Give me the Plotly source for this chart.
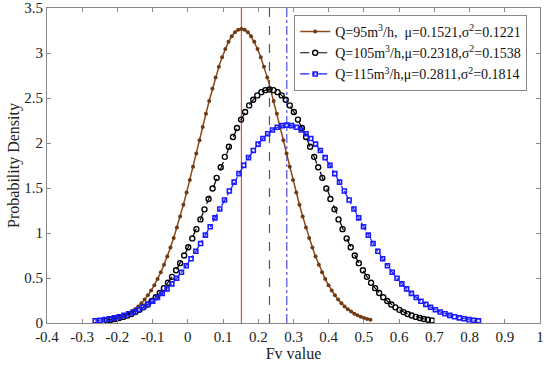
import plotly.graph_objects as go

# ---- data ----
labels = ["Q=95m<sup>3</sup>/h,  μ=0.1521,σ<sup>2</sup>=0.1221",
          "Q=105m<sup>3</sup>/h,μ=0.2318,σ<sup>2</sup>=0.1538",
          "Q=115m<sup>3</sup>/h,μ=0.2811,σ<sup>2</sup>=0.1814"]
mean_lines = [0.1521, 0.2318, 0.2811]

x95 = [-0.2142, -0.2050, -0.1959, -0.1867, -0.1776, -0.1684, -0.1593, -0.1501, -0.1409, -0.1318,
       -0.1226, -0.1135, -0.1043, -0.0952, -0.0860, -0.0768, -0.0677, -0.0585, -0.0494, -0.0402,
       -0.0311, -0.0219, -0.0127, -0.0036, 0.0056, 0.0147, 0.0239, 0.0331, 0.0422, 0.0514,
       0.0605, 0.0697, 0.0788, 0.0880, 0.0972, 0.1063, 0.1155, 0.1246, 0.1338, 0.1429,
       0.1521,
       0.1613, 0.1704, 0.1796, 0.1887, 0.1979, 0.2071, 0.2162, 0.2254, 0.2345, 0.2437,
       0.2528, 0.2620, 0.2712, 0.2803, 0.2895, 0.2986, 0.3078, 0.3169, 0.3261, 0.3353,
       0.3444, 0.3536, 0.3627, 0.3719, 0.3810, 0.3902, 0.3994, 0.4085, 0.4177, 0.4268,
       0.4360, 0.4451, 0.4543, 0.4635, 0.4726, 0.4818, 0.4909, 0.5001, 0.5092, 0.5184]
y95 = [0.036, 0.045, 0.056, 0.069, 0.085, 0.104, 0.127, 0.153, 0.183, 0.219,
       0.260, 0.307, 0.360, 0.420, 0.488, 0.563, 0.647, 0.738, 0.838, 0.945,
       1.061, 1.184, 1.314, 1.449, 1.590, 1.735, 1.883, 2.031, 2.179, 2.325,
       2.466, 2.602, 2.729, 2.847, 2.953, 3.045, 3.124, 3.186, 3.231, 3.258,
       3.267,
       3.258, 3.231, 3.186, 3.124, 3.045, 2.953, 2.847, 2.729, 2.602, 2.466,
       2.325, 2.179, 2.031, 1.883, 1.735, 1.590, 1.449, 1.314, 1.184, 1.061,
       0.945, 0.838, 0.738, 0.647, 0.563, 0.488, 0.420, 0.360, 0.307, 0.260,
       0.219, 0.183, 0.153, 0.127, 0.104, 0.085, 0.069, 0.056, 0.045, 0.036]

x105 = [-0.2296, -0.2181, -0.2065, -0.1950, -0.1835, -0.1719, -0.1604, -0.1489, -0.1373, -0.1258,
        -0.1142, -0.1027, -0.0912, -0.0797, -0.0681, -0.0566, -0.0450, -0.0335, -0.0220, -0.0104,
        0.0011, 0.0126, 0.0242, 0.0357, 0.0472, 0.0588, 0.0703, 0.0818, 0.0934, 0.1049,
        0.1165, 0.1280, 0.1395, 0.1511, 0.1626, 0.1741, 0.1857, 0.1972, 0.2087, 0.2203,
        0.2318,
        0.2433, 0.2549, 0.2664, 0.2779, 0.2895, 0.3010, 0.3126, 0.3241, 0.3356, 0.3472,
        0.3587, 0.3702, 0.3818, 0.3933, 0.4048, 0.4164, 0.4279, 0.4394, 0.4510, 0.4625,
        0.4740, 0.4856, 0.4971, 0.5086, 0.5202, 0.5317, 0.5433, 0.5548, 0.5663, 0.5779,
        0.5894, 0.6009, 0.6125, 0.6240, 0.6355, 0.6471, 0.6586, 0.6701, 0.6817, 0.6932]
y105 = [0.029, 0.036, 0.045, 0.055, 0.068, 0.083, 0.100, 0.121, 0.146, 0.174,
        0.206, 0.244, 0.286, 0.334, 0.387, 0.447, 0.513, 0.586, 0.665, 0.750,
        0.842, 0.940, 1.043, 1.151, 1.263, 1.378, 1.495, 1.613, 1.730, 1.846,
        1.958, 2.066, 2.167, 2.260, 2.344, 2.418, 2.480, 2.529, 2.565, 2.587,
        2.594,
        2.587, 2.565, 2.529, 2.480, 2.418, 2.344, 2.260, 2.167, 2.066, 1.958,
        1.846, 1.730, 1.613, 1.495, 1.378, 1.263, 1.151, 1.043, 0.940, 0.842,
        0.750, 0.665, 0.586, 0.513, 0.447, 0.387, 0.334, 0.286, 0.244, 0.206,
        0.174, 0.146, 0.121, 0.100, 0.083, 0.068, 0.055, 0.045, 0.036, 0.029]

x115 = [-0.2631, -0.2495, -0.2359, -0.2223, -0.2087, -0.1951, -0.1815, -0.1679, -0.1543, -0.1407,
        -0.1271, -0.1135, -0.0998, -0.0862, -0.0726, -0.0590, -0.0454, -0.0318, -0.0182, -0.0046,
        0.0090, 0.0226, 0.0362, 0.0498, 0.0634, 0.0770, 0.0906, 0.1042, 0.1178, 0.1314,
        0.1451, 0.1587, 0.1723, 0.1859, 0.1995, 0.2131, 0.2267, 0.2403, 0.2539, 0.2675,
        0.2811,
        0.2947, 0.3083, 0.3219, 0.3355, 0.3491, 0.3627, 0.3763, 0.3899, 0.4036, 0.4172,
        0.4308, 0.4444, 0.4580, 0.4716, 0.4852, 0.4988, 0.5124, 0.5260, 0.5396, 0.5532,
        0.5668, 0.5804, 0.5940, 0.6076, 0.6212, 0.6348, 0.6484, 0.6620, 0.6757, 0.6893,
        0.7029, 0.7165, 0.7301, 0.7437, 0.7573, 0.7709, 0.7845, 0.7981, 0.8117, 0.8253]
y115 = [0.024, 0.031, 0.038, 0.047, 0.057, 0.070, 0.085, 0.103, 0.123, 0.147,
        0.175, 0.207, 0.242, 0.283, 0.329, 0.379, 0.435, 0.497, 0.564, 0.636,
        0.714, 0.797, 0.884, 0.976, 1.070, 1.168, 1.267, 1.367, 1.467, 1.565,
        1.660, 1.751, 1.837, 1.916, 1.987, 2.050, 2.102, 2.144, 2.175, 2.193,
        2.199,
        2.193, 2.175, 2.144, 2.102, 2.050, 1.987, 1.916, 1.837, 1.751, 1.660,
        1.565, 1.467, 1.367, 1.267, 1.168, 1.070, 0.976, 0.884, 0.797, 0.714,
        0.636, 0.564, 0.497, 0.435, 0.379, 0.329, 0.283, 0.242, 0.207, 0.175,
        0.147, 0.123, 0.103, 0.085, 0.070, 0.057, 0.047, 0.038, 0.031, 0.024]

x_ticks = [-0.4, -0.3, -0.2, -0.1, 0.0, 0.1, 0.2, 0.3, 0.4, 0.5, 0.6, 0.7, 0.8, 0.9, 1.0]
x_ticktext = ["-0.4", "-0.3", "-0.2", "-0.1", "0", "0.1", "0.2", "0.3", "0.4", "0.5",
              "0.6", "0.7", "0.8", "0.9", "1"]
y_ticks = [0, 0.5, 1, 1.5, 2, 2.5, 3, 3.5]
y_ticktext = ["0", "0.5", "1", "1.5", "2", "2.5", "3", "3.5"]
x_range = [-0.4, 1.0]
y_range = [0, 3.5]

FONT = "'Liberation Serif', 'Times New Roman', serif"

fig = go.Figure()

# vertical mean lines
vstyles = [dict(color="#d2573c", width=1.2, dash="solid"),
           dict(color="#555555", width=1.2, dash="dash"),
           dict(color="#2b2bd8", width=1, dash="dashdot")]
for xv, st in zip(mean_lines, vstyles):
    fig.add_vline(x=xv, line=st, layer="below")

fig.add_trace(go.Scatter(
    x=x95, y=y95, mode="lines+markers", name=labels[0],
    line=dict(color="#8c4a1c", width=1.5),
    marker=dict(symbol="circle", size=4, color="#6e3a12", line=dict(width=0))))
fig.add_trace(go.Scatter(
    x=x105, y=y105, mode="lines+markers", name=labels[1],
    line=dict(color="black", width=1.2, dash="dash"),
    marker=dict(symbol="circle-open", size=5, color="black", line=dict(width=1.4))))
fig.add_trace(go.Scatter(
    x=x115, y=y115, mode="lines+markers", name=labels[2],
    line=dict(color="#1a1aff", width=1.2, dash="dashdot"),
    marker=dict(symbol="square-open", size=4, color="#1a1aff", line=dict(width=1.6))))

axis_common = dict(showgrid=False, zeroline=False, showline=True, linecolor="#888888",
                   linewidth=1, mirror="ticks", ticks="inside", ticklen=4,
                   tickcolor="#888888", ticklabeloverflow="allow", tickmode="array",
                   automargin=False,
                   tickfont=dict(family=FONT, size=15, color="#222222"))

fig.update_layout(
    template="none",
    width=550, height=368,
    margin=dict(l=47, r=10, t=8, b=45, pad=0),
    paper_bgcolor="white", plot_bgcolor="white",
    font=dict(family=FONT, size=15, color="#222222"),
    xaxis=dict(range=x_range, tickvals=x_ticks, ticktext=x_ticktext,
               title=dict(text="Fv value", font=dict(family=FONT, size=16), standoff=3),
               **axis_common),
    yaxis=dict(range=y_range, tickvals=y_ticks, ticktext=y_ticktext,
               title=dict(text="Probability Density", font=dict(family=FONT, size=16), standoff=0),
               **axis_common),
    legend=dict(x=0.974, y=0.978, xanchor="right", yanchor="top",
                bgcolor="white", bordercolor="#888888", borderwidth=1,
                font=dict(family=FONT, size=14, color="#111111"),
                tracegroupgap=0, itemwidth=30),
    showlegend=True,
)

fig.write_html("out.html",
               config={"displayModeBar": False},
               post_script="document.body.style.margin='0';document.body.style.padding='0';")
